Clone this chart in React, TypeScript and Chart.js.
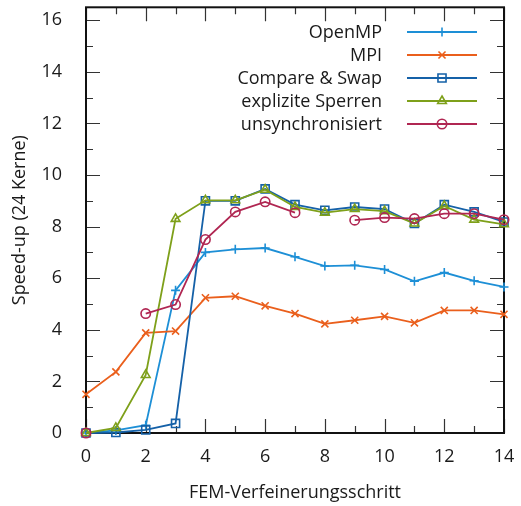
import React, { useEffect, useRef } from "react";
import { Chart, registerables } from "chart.js";
Chart.register(...registerables);

const steps = [0, 1, 2, 3, 4, 5, 6, 7, 8, 9, 10, 11, 12, 13, 14];
const xTicks = [0, 2, 4, 6, 8, 10, 12, 14];
const yTicks = [0, 2, 4, 6, 8, 10, 12, 14, 16];

const seriesNames = ["OpenMP", "MPI", "Compare & Swap", "explizite Sperren", "unsynchronisiert"];
const openmp = [0, 0.1, 0.3, 5.53, 7.0, 7.12, 7.17, 6.83, 6.47, 6.5, 6.34, 5.88, 6.22, 5.9, 5.66];
const mpi = [1.5, 2.37, 3.88, 3.95, 5.24, 5.3, 4.93, 4.63, 4.23, 4.37, 4.52, 4.27, 4.75, 4.75, 4.6];
const cas = [0, 0.02, 0.12, 0.37, 9.0, 9.0, 9.46, 8.85, 8.63, 8.76, 8.68, 8.12, 8.85, 8.57, 8.18];
const locks = [0, 0.2, 2.25, 8.3, 9.02, 9.02, 9.43, 8.76, 8.54, 8.68, 8.6, 8.12, 8.8, 8.27, 8.09];
const unsync = [0, null, 4.63, 4.98, 7.5, 8.57, 8.96, 8.54, null, 8.25, 8.35, 8.31, 8.5, 8.5, 8.27];

const colors = ["#1d8fd6", "#ea5f1c", "#1561a8", "#7ea01a", "#b02652"];
const pointStyles = ["cross", "crossRot", "rect", "triangle", "circle"];
const pointRadii = [4.5, 5, 5.7, 5, 4.7];

const FONT = "'Open Sans', 'Noto Sans', sans-serif";

function drawMarker(ctx: CanvasRenderingContext2D, style: string, x: number, y: number, r: number) {
  ctx.beginPath();
  if (style === "cross") {
    ctx.moveTo(x - r, y); ctx.lineTo(x + r, y);
    ctx.moveTo(x, y - r); ctx.lineTo(x, y + r);
  } else if (style === "crossRot") {
    const d = r * Math.SQRT1_2;
    ctx.moveTo(x - d, y - d); ctx.lineTo(x + d, y + d);
    ctx.moveTo(x - d, y + d); ctx.lineTo(x + d, y - d);
  } else if (style === "rect") {
    const s = r * Math.SQRT1_2;
    ctx.rect(x - s, y - s, 2 * s, 2 * s);
  } else if (style === "triangle") {
    for (let k = 0; k < 3; k++) {
      const a = -Math.PI / 2 + (k * 2 * Math.PI) / 3;
      const px = x + Math.cos(a) * r, py = y + Math.sin(a) * r;
      if (k === 0) ctx.moveTo(px, py); else ctx.lineTo(px, py);
    }
    ctx.closePath();
  } else {
    ctx.arc(x, y, r, 0, Math.PI * 2);
  }
  ctx.stroke();
}

export default function App() {
  const ref = useRef<HTMLCanvasElement>(null);
  useEffect(() => {
    document.body.style.margin = "0";
    const values = [openmp, mpi, cas, locks, unsync];
    const framePlugin = {
      id: "frameTicks",
      beforeDatasetsDraw(chart: any) {
        const { ctx, chartArea: a, scales } = chart;
        const xs = scales.x, ys = scales.y;
        ctx.save();
        ctx.strokeStyle = "#333";
        ctx.lineWidth = 1.2;
        ctx.beginPath();
        for (let v = 0; v <= 16; v++) {
          const py = Math.round(ys.getPixelForValue(v)) + 0.5;
          const len = v % 2 === 0 ? 14 : 7;
          ctx.moveTo(a.left, py); ctx.lineTo(a.left + len, py);
          ctx.moveTo(a.right, py); ctx.lineTo(a.right - len, py);
        }
        for (let v = 0; v <= 14; v++) {
          const px = Math.round(xs.getPixelForValue(v)) + 0.5;
          const len = v % 2 === 0 ? 14 : 7;
          ctx.moveTo(px, a.bottom); ctx.lineTo(px, a.bottom - len);
          ctx.moveTo(px, a.top); ctx.lineTo(px, a.top + len);
        }
        ctx.stroke();
        ctx.strokeStyle = "#111";
        ctx.lineWidth = 2;
        ctx.strokeRect(a.left, a.top, a.right - a.left, a.bottom - a.top);
        ctx.restore();
      },
      afterDraw(chart: any) {
        const ctx = chart.ctx as CanvasRenderingContext2D;
        ctx.save();
        ctx.font = `18px ${FONT}`;
        ctx.textAlign = "right";
        ctx.textBaseline = "middle";
        seriesNames.forEach((name, i) => {
          const y = 32 + 23 * i;
          ctx.fillStyle = "#1a1a1a";
          ctx.fillText(name, 382, y + 1);
          ctx.strokeStyle = colors[i];
          ctx.lineWidth = 1.8;
          ctx.beginPath();
          ctx.moveTo(407, y); ctx.lineTo(477, y);
          ctx.stroke();
          ctx.lineWidth = 1.6;
          drawMarker(ctx, pointStyles[i], 442, y, pointRadii[i]);
        });
        ctx.restore();
      },
    };

    const chart = new Chart(ref.current as HTMLCanvasElement, {
      type: "line",
      data: {
        datasets: seriesNames.map((name, i) => ({
          label: name,
          data: steps.map((s, j) => ({ x: s, y: values[i][j] as any })),
          borderColor: colors[i],
          backgroundColor: "transparent",
          borderWidth: 1.8,
          pointStyle: pointStyles[i] as any,
          pointRadius: pointRadii[i],
          pointBorderWidth: 1.6,
          pointBorderColor: colors[i],
          pointBackgroundColor: "transparent",
          spanGaps: false,
          clip: false as any,
          order: 4 - i,
        })),
      },
      options: {
        responsive: false,
        animation: false,
        devicePixelRatio: 1,
        layout: { padding: { left: 0, top: 6, right: 17, bottom: 0 } },
        plugins: { legend: { display: false }, tooltip: { enabled: false }, title: { display: false } },
        scales: {
          x: {
            type: "linear",
            min: 0,
            max: 14,
            afterBuildTicks: (s: any) => { s.ticks = xTicks.map((v) => ({ value: v })); },
            afterFit: (s: any) => { s.height = 73; s.paddingLeft = 0; s.paddingRight = 0; },
            grid: { display: false, drawTicks: false },
            border: { display: false },
            ticks: { font: { family: FONT, size: 18 }, color: "#1a1a1a", padding: 13, maxRotation: 0 },
            title: {
              display: true,
              text: "FEM-Verfeinerungsschritt",
              font: { family: FONT, size: 18 },
              color: "#1a1a1a",
              padding: { top: 0, bottom: 2 },
            },
          },
          y: {
            type: "linear",
            min: 0,
            max: 16.5,
            afterBuildTicks: (s: any) => { s.ticks = yTicks.map((v) => ({ value: v })); },
            afterFit: (s: any) => { s.width = 86; s.paddingTop = 0; s.paddingBottom = 0; },
            grid: { display: false, drawTicks: false },
            border: { display: false },
            ticks: { font: { family: FONT, size: 18 }, color: "#1a1a1a", padding: 24 },
            title: {
              display: true,
              text: "Speed-up (24 Kerne)",
              font: { family: FONT, size: 18 },
              color: "#1a1a1a",
              padding: { top: 9, bottom: 0 },
            },
          },
        },
      },
      plugins: [framePlugin],
    });
    return () => chart.destroy();
  }, []);
  return (
    <div style={{ width: 521, height: 506 }}>
      <canvas ref={ref} width={521} height={506} style={{ display: "block", width: 521, height: 506 }} />
    </div>
  );
}
